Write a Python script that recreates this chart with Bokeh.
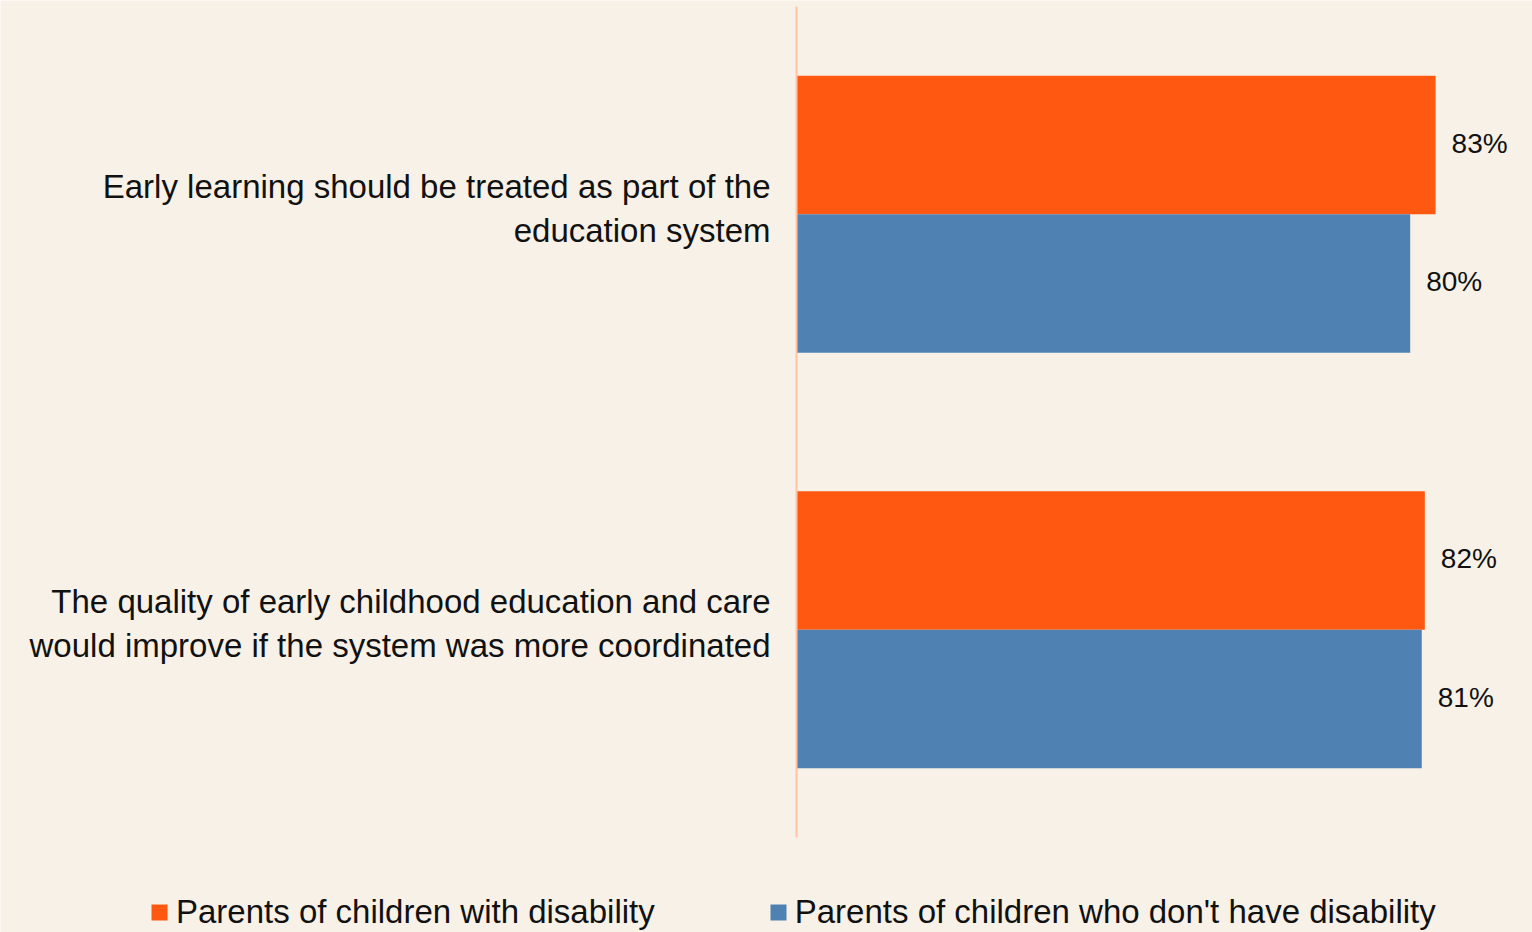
from bokeh.plotting import figure
from bokeh.models import ColumnDataSource, Legend, LegendItem, Range1d
from bokeh.embed import file_html
from bokeh.resources import INLINE
from bokeh.core.properties import value

categories = [
    "Early learning should be treated as part of the\neducation system",
    "The quality of early childhood education and care\nwould improve if the system was more coordinated",
]
series_names = ["Parents of children with disability", "Parents of children who don't have disability"]
with_disability = [83.0, 81.6]
without_disability = [79.7, 81.2]

ORANGE = "#FF5811"
BLUE = "#4F82B2"
BG = "#F8F1E7"
AXIS = "#FFC3A6"
FONT = "Liberation Sans"
TXT = "#111111"

n = len(categories)
pos = [n - 1 - i for i in range(n)]          # first category on top
BAR_H = 1 / 3
src = ColumnDataSource(dict(
    cat=categories,
    y=pos,
    ya=[v + BAR_H / 2 for v in pos],
    yb=[v - BAR_H / 2 for v in pos],
    a=with_disability,
    b=without_disability,
    la=[f"{round(v)}%" for v in with_disability],
    lb=[f"{round(v)}%" for v in without_disability],
))

W, H = 1532, 932
# pixel layout: plot area begins at x=796, categories fill y=6..837
px_per_unit_x = 7.7
px_per_cat = 415.5
x_start = -796 / px_per_unit_x
x_end = (W - 796) / px_per_unit_x
y_end = (n - 0.5) + 6 / px_per_cat
y_start = -0.5 - (H - 837) / px_per_cat

p = figure(width=W, height=H, output_backend="svg", toolbar_location=None,
           x_range=Range1d(x_start, x_end), y_range=Range1d(y_start, y_end),
           min_border=0, background_fill_color=BG, border_fill_color=BG,
           outline_line_color=None)
p.axis.visible = False
p.grid.visible = False

ra = p.hbar(y="ya", right="a", left=0, height=BAR_H, source=src,
            fill_color=ORANGE, line_color=None)
rb = p.hbar(y="yb", right="b", left=0, height=BAR_H, source=src,
            fill_color=BLUE, line_color=None)

# axis line along the category band
p.segment(x0=[0], y0=[-0.5], x1=[0], y1=[n - 0.5], line_color=AXIS, line_width=2)

for col, ycol, lab in (("a", "ya", "la"), ("b", "yb", "lb")):
    p.text(x=col, y=ycol, text=lab, source=src,
           x_offset=16, y_offset=-2, text_align="left", text_baseline="middle",
           text_font=value(FONT), text_font_size="28px", text_color=TXT)

# category labels
p.text(x=0, y="y", text="cat", source=src, x_offset=-26, y_offset=-6,
       text_align="right", text_baseline="middle", text_line_height=1.2,
       text_font=value(FONT), text_font_size="33px", text_color=TXT)

legend = Legend(items=[LegendItem(label=series_names[0], renderers=[ra]),
                       LegendItem(label=series_names[1], renderers=[rb])],
                orientation="horizontal", location=(149, 1),
                background_fill_alpha=0, border_line_color=None,
                label_text_font=FONT, label_text_font_size="33px", label_text_color=TXT,
                glyph_width=20, glyph_height=20, spacing=113, padding=0, margin=0,
                label_standoff=7)
p.add_layout(legend, "center")

open("out.html", "w").write(file_html(p, INLINE))
